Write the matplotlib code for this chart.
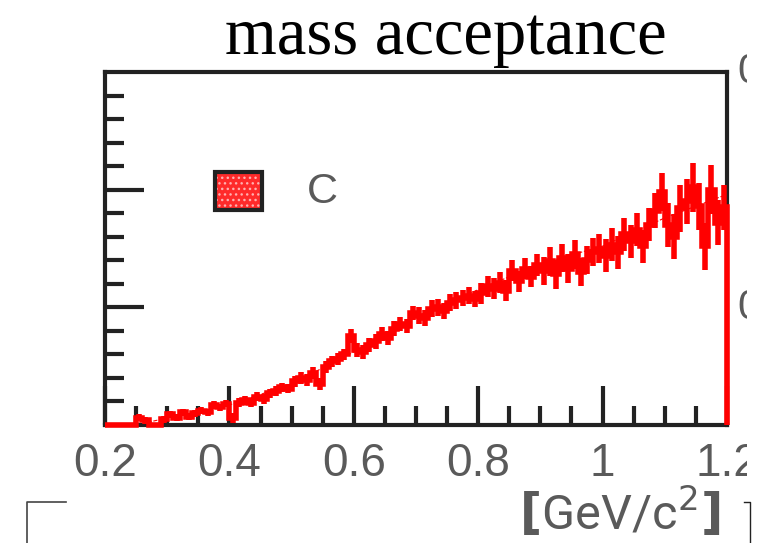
import numpy as np
import matplotlib
matplotlib.use('Agg')
import matplotlib.pyplot as plt
from matplotlib.patches import Rectangle

# bin edges of the mass histogram [GeV/c^2]
edges = np.round(np.arange(0.20, 1.2001, 0.01), 3)

# acceptance per bin (arbitrary units)
acc = [0.00, 0.00, 0.00, 0.00, 0.00, 0.06, 0.04, 0.00, 0.00, 0.05,
       0.09, 0.06, 0.11, 0.07, 0.10, 0.12, 0.11, 0.17, 0.15, 0.18,
       0.06, 0.19, 0.21, 0.19, 0.24, 0.22, 0.27, 0.29, 0.32, 0.31,
       0.37, 0.40, 0.38, 0.44, 0.35, 0.49, 0.54, 0.56, 0.60, 0.76,
       0.64, 0.62, 0.68, 0.71, 0.77, 0.74, 0.82, 0.86, 0.84, 0.95,
       0.93, 0.91, 0.99, 1.00, 0.97, 1.04, 1.06, 1.08, 1.10, 1.07,
       1.12, 1.18, 1.16, 1.21, 1.14, 1.31, 1.22, 1.33, 1.26, 1.36,
       1.31, 1.39, 1.28, 1.42, 1.33, 1.45, 1.30, 1.40, 1.47, 1.50,
       1.44, 1.53, 1.47, 1.62, 1.56, 1.66, 1.52, 1.70, 1.82, 1.98,
       1.70, 1.60, 1.84, 1.90, 2.02, 1.86, 1.52, 2.00, 1.72, 1.85]

err = [0.00, 0.00, 0.00, 0.00, 0.00, 0.03, 0.03, 0.00, 0.00, 0.03,
       0.03, 0.03, 0.03, 0.03, 0.03, 0.03, 0.03, 0.03, 0.03, 0.03,
       0.04, 0.04, 0.04, 0.04, 0.04, 0.04, 0.04, 0.04, 0.04, 0.04,
       0.05, 0.05, 0.05, 0.05, 0.05, 0.05, 0.05, 0.05, 0.05, 0.06,
       0.06, 0.06, 0.06, 0.06, 0.06, 0.06, 0.06, 0.06, 0.06, 0.06,
       0.07, 0.07, 0.07, 0.07, 0.07, 0.07, 0.07, 0.07, 0.07, 0.07,
       0.09, 0.09, 0.09, 0.09, 0.09, 0.09, 0.09, 0.09, 0.09, 0.09,
       0.12, 0.12, 0.12, 0.12, 0.12, 0.12, 0.12, 0.12, 0.12, 0.12,
       0.14, 0.14, 0.14, 0.14, 0.14, 0.14, 0.14, 0.14, 0.15, 0.16,
       0.19, 0.19, 0.20, 0.19, 0.21, 0.20, 0.20, 0.21, 0.19, 0.19]

# smooth fit through the histogram
fit_x = [0.25, 0.30, 0.40, 0.50, 0.60, 0.70, 0.80, 0.90, 1.00, 1.10, 1.20]
fit_y = [0.00, 0.06, 0.17, 0.35, 0.62, 0.92, 1.15, 1.37, 1.52, 1.76, 1.96]

xticks = [0.2, 0.4, 0.6, 0.8, 1.0, 1.2]
xticklabels = ['0.2', '0.4', '0.6', '0.8', '1', '1.2']

red = '#ff0000'
grey = '#5a5a5a'
sans = 'Liberation Sans'

fig = plt.figure(figsize=(7.6, 5.43), dpi=100)
ax = fig.add_axes([105/760, 118/543, 622/760, 353/543])

centers = (edges[:-1] + edges[1:]) / 2
ax.stairs(acc, edges, baseline=0, color=red, lw=4, zorder=3, clip_on=False)
ax.errorbar(centers, acc, yerr=err, fmt='none', ecolor=red, elinewidth=4, capsize=0, zorder=3)
ax.plot(fit_x, fit_y, color=red, lw=0.8, ls='--', zorder=2)

ax.set_xlim(0.2, 1.2)
ax.set_ylim(0, 3.0)
for s in ax.spines.values():
    s.set_linewidth(3)
    s.set_color('#222222')
ax.set_xticks(xticks)
ax.set_xticklabels(xticklabels, fontsize=33, color=grey, family=sans)
ax.set_xticks(np.arange(0.25, 1.2, 0.05), minor=True)
ax.set_yticks([1, 2])
ax.set_yticks([0.2, 0.4, 0.6, 0.8, 1.2, 1.4, 1.6, 1.8, 2.2, 2.4, 2.6, 2.8], minor=True)
ax.set_yticklabels([])
ax.tick_params(which='both', direction='in', top=False, right=False, width=3, color='#222222')
ax.tick_params(which='major', length=28, pad=12)
ax.tick_params(which='minor', length=14)

# legend entry
lx, ly, lw_, lh = 215/760, (543-210)/543, 47/760, 38/543
fig.patches.append(Rectangle((lx, ly), lw_, lh, transform=fig.transFigure,
                             facecolor='#ff2a2a', edgecolor='#ffb0b0', hatch='...', lw=0, zorder=5))
fig.patches.append(Rectangle((lx, ly), lw_, lh, transform=fig.transFigure,
                             facecolor='none', edgecolor='#222222', lw=3, zorder=6))
fig.text(322/760, (543-192)/543, 'C', fontsize=31, color=grey, ha='center', va='center',
         family=sans)

fig.text(446/760, (543-54)/543, 'mass acceptance', fontsize=48, ha='center', va='baseline',
         family='Liberation Serif')
fig.text(720/760, (543-530)/543, r'$\mathbf{[}$GeV/c$^{2}$$\mathbf{]}$', fontsize=35, color=grey,
         ha='right', va='baseline', family='Roboto')

# pieces of the neighbouring panels
fig.text(737/760, (543-72)/543, '0', fontsize=30, color=grey, ha='left', va='center', family=sans)
fig.text(737/760, (543-308)/543, '0', fontsize=30, color=grey, ha='left', va='center', family=sans)
fig.patches.append(Rectangle((747/760, 0), 13/760, 1, transform=fig.transFigure,
                             facecolor='white', edgecolor='none', zorder=10))
fig.lines.append(plt.Line2D([27/760, 27/760, 66/760], [0, (543-502)/543, (543-502)/543],
                            transform=fig.transFigure, color='#444444', lw=1.2, zorder=11))
fig.lines.append(plt.Line2D([744/760, 750/760, 750/760], [(543-502)/543, (543-502)/543, 0],
                            transform=fig.transFigure, color='#222222', lw=1.0, zorder=11))

fig.savefig('out.png', dpi=100)
